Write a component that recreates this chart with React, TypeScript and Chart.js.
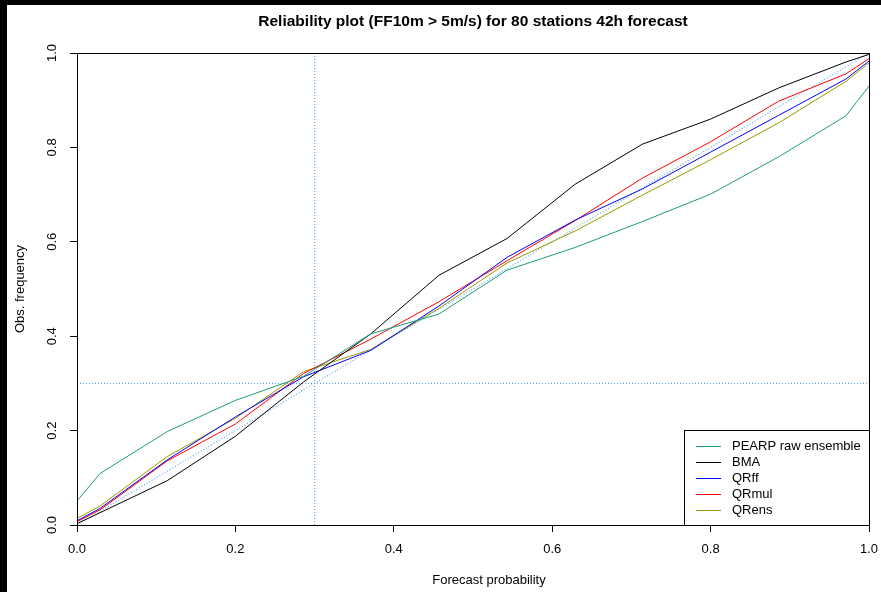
import { useEffect, useRef } from "react";
import { Chart, registerables } from "chart.js";

Chart.register(...registerables);

// Forecast probability bins (bin centres, 35-member ensemble)
const probBins = [0, 0.029, 0.114, 0.2, 0.286, 0.371, 0.457, 0.543, 0.629, 0.714, 0.8, 0.886, 0.971, 1.0];

// Observed frequencies per method
const pearpRaw = [0.051, 0.109, 0.198, 0.264, 0.315, 0.405, 0.447, 0.540, 0.588, 0.643, 0.701, 0.780, 0.867, 0.930];
const bma = [0.003, 0.026, 0.094, 0.188, 0.303, 0.405, 0.529, 0.607, 0.722, 0.807, 0.860, 0.926, 0.981, 0.997];
const qrff = [0.009, 0.035, 0.138, 0.229, 0.314, 0.370, 0.464, 0.567, 0.646, 0.712, 0.790, 0.868, 0.945, 0.983];
const qrmul = [0.007, 0.032, 0.136, 0.214, 0.321, 0.394, 0.473, 0.560, 0.645, 0.735, 0.812, 0.898, 0.956, 0.988];
const qrens = [0.014, 0.040, 0.145, 0.226, 0.325, 0.372, 0.459, 0.555, 0.623, 0.699, 0.774, 0.852, 0.940, 0.979];

const seriesLabels = ["PEARP raw ensemble", "BMA", "QRff", "QRmul", "QRens"];
const seriesColors = ["#1B9E77", "#000000", "#0000FF", "#FF0000", "#999900"];
const seriesValues = [pearpRaw, bma, qrff, qrmul, qrens];

const tickValues = [0, 0.2, 0.4, 0.6, 0.8, 1.0];
const climatology = 0.3;
const diagonal = [0, 1];

const titleText = "Reliability plot (FF10m > 5m/s) for 80 stations 42h forecast";
const xLabel = "Forecast probability";
const yLabel = "Obs. frequency";

const FONT = '"Liberation Sans", Arial, Helvetica, sans-serif';
const REF_COLOR = "#5aaaff";

const rPlotPlugin = {
  id: "rPlot",
  afterDraw(chart: any) {
    const { ctx, chartArea: a, scales } = chart;
    const ys = scales.y;
    ctx.save();
    ctx.setLineDash([]);
    // box
    ctx.strokeStyle = "#000";
    ctx.lineWidth = 1;
    ctx.strokeRect(Math.round(a.left) + 0.5, Math.round(a.top) + 0.5, Math.round(a.right - a.left), Math.round(a.bottom - a.top));

    // y tick labels (rotated, R style)
    ctx.fillStyle = "#000";
    ctx.font = `13px ${FONT}`;
    ctx.textAlign = "center";
    ctx.textBaseline = "middle";
    for (const v of tickValues) {
      const py = ys.getPixelForValue(v);
      ctx.save();
      ctx.translate(a.left - 25, py);
      ctx.rotate(-Math.PI / 2);
      ctx.fillText(v.toFixed(1), 0, 0);
      ctx.restore();
    }

    // title
    const midX = (a.left + a.right) / 2;
    ctx.font = `bold 15.5px ${FONT}`;
    ctx.fillText(titleText, midX, 16.5);

    // axis titles
    ctx.font = `13px ${FONT}`;
    ctx.fillText(xLabel, midX + 16, 575);
    ctx.save();
    ctx.translate(13, (a.top + a.bottom) / 2);
    ctx.rotate(-Math.PI / 2);
    ctx.fillText(yLabel, 0, 0);
    ctx.restore();

    // legend
    const lw = 185;
    const lh = 95;
    const lx = Math.round(a.right - lw);
    const ly = Math.round(a.bottom - lh);
    ctx.fillStyle = "#fff";
    ctx.fillRect(lx + 0.5, ly + 0.5, lw, lh);
    ctx.strokeStyle = "#000";
    ctx.lineWidth = 1;
    ctx.strokeRect(lx + 0.5, ly + 0.5, lw, lh);
    ctx.textAlign = "left";
    ctx.textBaseline = "middle";
    seriesLabels.forEach((lab, i) => {
      const yy = ly + 16 + 16 * i;
      ctx.strokeStyle = seriesColors[i];
      ctx.lineWidth = 1;
      ctx.beginPath();
      ctx.moveTo(lx + 12, yy + 0.5);
      ctx.lineTo(lx + 37, yy + 0.5);
      ctx.stroke();
      ctx.fillStyle = "#000";
      ctx.fillText(lab, lx + 48, yy);
    });
    ctx.restore();
  },
};

export default function App() {
  const ref = useRef<HTMLCanvasElement | null>(null);

  useEffect(() => {
    document.body.style.margin = "0";
    document.body.style.background = "#000";
    const canvas = ref.current;
    if (!canvas) return;

    const seriesDatasets = seriesValues.map((vals, i) => ({
      label: seriesLabels[i],
      data: probBins.map((p, j) => ({ x: p, y: vals[j] })),
      borderColor: seriesColors[i],
      backgroundColor: seriesColors[i],
      borderWidth: 1,
      pointRadius: 0,
      tension: 0,
      fill: false,
    }));

    const refDatasets = [
      {
        label: "diag",
        data: diagonal.map((v) => ({ x: v, y: v })),
      },
      {
        label: "climH",
        data: diagonal.map((v) => ({ x: v, y: climatology })),
      },
      {
        label: "climV",
        data: diagonal.map((v) => ({ x: climatology, y: v })),
      },
    ].map((d) => ({
      ...d,
      borderColor: REF_COLOR,
      backgroundColor: REF_COLOR,
      borderWidth: 1.2,
      borderDash: [1, 2],
      pointRadius: 0,
      fill: false,
    }));

    const chart = new Chart(canvas, {
      type: "line",
      data: { datasets: [...seriesDatasets, ...refDatasets] as any },
      options: {
        animation: false,
        responsive: false,
        devicePixelRatio: 1,
        layout: { padding: { top: 48, right: 12, bottom: 0, left: 0 } },
        plugins: {
          legend: { display: false },
          title: { display: false },
          tooltip: { enabled: false },
        },
        scales: {
          x: {
            type: "linear",
            min: 0,
            max: 1,
            border: { display: false },
            grid: { drawOnChartArea: false, drawTicks: true, tickLength: 7, color: "#000" },
            ticks: {
              stepSize: 0.2,
              autoSkip: false,
              maxRotation: 0,
              padding: 10,
              color: "#000",
              font: { family: FONT, size: 13 },
              callback: (v: any) => Number(v).toFixed(1),
            },
            afterFit: (s: any) => {
              s.height = 67;
              s.paddingLeft = 0;
              s.paddingRight = 0;
            },
          },
          y: {
            type: "linear",
            min: 0,
            max: 1,
            border: { display: false },
            grid: { drawOnChartArea: false, drawTicks: true, tickLength: 7, color: "#000" },
            ticks: { stepSize: 0.2, display: false },
            afterFit: (s: any) => {
              s.width = 70;
              s.paddingTop = 0;
              s.paddingBottom = 0;
            },
          },
        },
      },
      plugins: [rPlotPlugin],
    });

    return () => chart.destroy();
  }, []);

  return (
    <div style={{ position: "absolute", left: 7, top: 5, width: 874, height: 587, background: "#fff" }}>
      <canvas ref={ref} width={874} height={587} style={{ display: "block", width: 874, height: 587 }} />
    </div>
  );
}
